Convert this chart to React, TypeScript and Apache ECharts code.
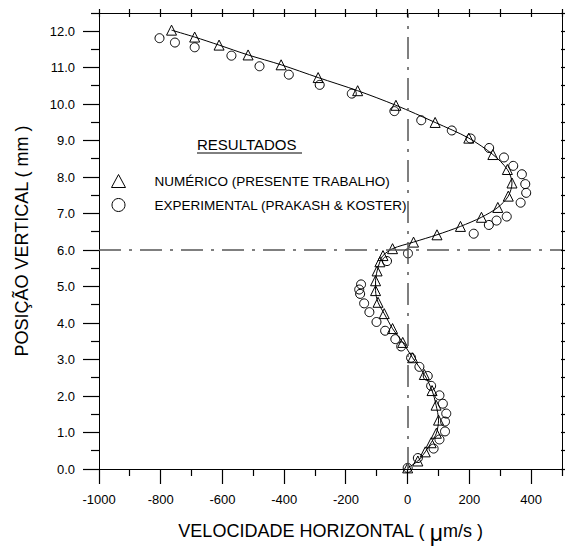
import React, { useEffect, useRef } from 'react';
import * as echarts from 'echarts';

// Numerical results (triangles, joined by a line)
const numX = [-765, -690, -611, -517, -410, -290, -162, -38, 89, 198, 276, 323, 338, 326, 292, 239, 171, 95, 19, -49, -80, -90, -99, -104, -104, -96, -76, -49, -16, 16, 54, 79, 92, 100, 93, 76, 57, 33, 0];
const numY = [12.03, 11.84, 11.62, 11.35, 11.08, 10.73, 10.37, 9.97, 9.5, 9.07, 8.62, 8.21, 7.84, 7.48, 7.17, 6.9, 6.65, 6.42, 6.22, 6.04, 5.85, 5.68, 5.43, 5.16, 4.89, 4.57, 4.26, 3.85, 3.47, 3.05, 2.59, 2.15, 1.75, 1.34, 0.98, 0.72, 0.47, 0.22, 0.03];

// Experimental results (circles)
const expX = [-804, -754, -690, -571, -480, -385, -285, -181, -43, 44, 143, 204, 264, 312, 342, 370, 381, 384, 366, 321, 288, 263, 214, 1, -67, -151, -157, -154, -141, -124, -101, -73, -40, -21, 11, 38, 65, 76, 103, 114, 125, 121, 121, 103, 84, 33, 0];
const expY = [11.81, 11.69, 11.56, 11.33, 11.04, 10.81, 10.53, 10.29, 9.81, 9.56, 9.28, 9.06, 8.8, 8.54, 8.31, 8.08, 7.81, 7.57, 7.3, 6.92, 6.81, 6.69, 6.45, 5.91, 5.7, 5.06, 4.92, 4.8, 4.54, 4.3, 4.03, 3.79, 3.56, 3.36, 3.05, 2.8, 2.55, 2.28, 2.02, 1.79, 1.52, 1.3, 1.03, 0.81, 0.56, 0.3, 0.03];

// Tick labels / tick positions
const xTicks = [-1000, -800, -600, -400, -200, 0, 200, 400];
const xMinorTicks = [-900, -700, -500, -300, -100, 100, 300, 500];
const xTopTicks = [-1000, -900, -800, -700, -600, -500, -400, -300, -200, -100, 0, 100, 200, 300, 400, 500];
const yTicks = [0, 1, 2, 3, 4, 5, 6, 7, 8, 9, 10, 11, 12];
const yMinorTicks = [0.5, 1.5, 2.5, 3.5, 4.5, 5.5, 6.5, 7.5, 8.5, 9.5, 10.5, 11.5, 12.5];
const yRightTicks = [0, 0.5, 1, 1.5, 2, 2.5, 3, 3.5, 4, 4.5, 5, 5.5, 6, 6.5, 7, 7.5, 8, 8.5, 9, 9.5, 10, 10.5, 11, 11.5, 12, 12.5];

const X_MIN = -1000;
const X_MAX = 500;
const Y_MIN = 0;
const Y_MAX = 12.5;

const refX = 0;
const refY = 6;

const NUM_NAME = 'NUMÉRICO (PRESENTE TRABALHO)';
const EXP_NAME = 'EXPERIMENTAL (PRAKASH & KOSTER)';
const FONT = '"Liberation Sans", Arial, sans-serif';

export default function App() {
  const ref = useRef<HTMLDivElement>(null);

  useEffect(() => {
    if (!ref.current) return;
    const chart = echarts.init(ref.current, null, { renderer: 'svg' });
    const numData = numX.map((x, i) => [x, numY[i]]);
    const expData = expX.map((x, i) => [x, expY[i]]);
    const blank = { show: false };
    const line = { show: true, onZero: false, lineStyle: { color: '#000', width: 1 } };

    chart.setOption({
      animation: false,
      backgroundColor: '#fff',
      textStyle: { fontFamily: FONT },
      grid: { left: 99, right: 3, top: 13, bottom: 71 },
      xAxis: [
        {
          type: 'value',
          position: 'bottom',
          min: X_MIN,
          max: X_MAX,
          interval: 100,
          splitLine: blank,
          axisLine: line,
          axisTick: blank,
          axisLabel: {
            show: true,
            customValues: xTicks,
            margin: 24,
            fontSize: 13,
            color: '#000',
            fontFamily: FONT,
            formatter: (v: number) => String(v),
          },
          name: '{a|VELOCIDADE HORIZONTAL ( }{mu|μ}{a|m/s )}',
          nameLocation: 'middle',
          nameGap: 48,
          nameTextStyle: {
            rich: {
              a: { fontSize: 18, color: '#000', fontFamily: FONT },
              mu: { fontSize: 23, color: '#000', fontFamily: FONT, padding: [4, 0, 0, 0] },
            },
          },
        },
        {
          type: 'value',
          position: 'top',
          min: X_MIN,
          max: X_MAX,
          interval: 100,
          splitLine: blank,
          axisLine: line,
          axisTick: blank,
          axisLabel: blank,
        },
      ],
      yAxis: [
        {
          type: 'value',
          position: 'left',
          min: Y_MIN,
          max: Y_MAX,
          interval: 0.5,
          splitLine: blank,
          axisLine: line,
          axisTick: blank,
          axisLabel: {
            show: true,
            customValues: yTicks,
            margin: 24,
            fontSize: 13,
            color: '#000',
            fontFamily: FONT,
            formatter: (v: number) => v.toFixed(1),
          },
          name: 'POSIÇÃO VERTICAL ( mm )',
          nameLocation: 'middle',
          nameGap: 68,
          nameRotate: 90,
          nameTextStyle: { fontSize: 18, color: '#000', fontFamily: FONT },
        },
        {
          type: 'value',
          position: 'right',
          min: Y_MIN,
          max: Y_MAX,
          interval: 0.5,
          splitLine: blank,
          axisLine: line,
          axisTick: blank,
          axisLabel: blank,
        },
      ],
      legend: {
        orient: 'vertical',
        left: 106,
        top: 169,
        itemWidth: 14,
        itemHeight: 13,
        itemGap: 10,
        selectedMode: false,
        textStyle: { fontSize: 13.5, color: '#000', fontFamily: FONT, padding: [0, 0, 0, 24] },
        data: [
          { name: NUM_NAME, icon: 'triangle', itemStyle: { color: 'rgba(0,0,0,0)', borderColor: '#000', borderWidth: 1 } },
          { name: EXP_NAME, icon: 'circle', itemStyle: { color: 'rgba(0,0,0,0)', borderColor: '#000', borderWidth: 1 } },
        ],
      },
      series: [
        {
          name: 'ref',
          type: 'line',
          data: [],
          silent: true,
          markLine: {
            silent: true,
            symbol: 'none',
            label: { show: false },
            lineStyle: { color: '#555', width: 1.5, type: [22, 8, 3, 8] },
            data: [{ xAxis: refX }, { yAxis: refY }],
          },
        },
        {
          name: NUM_NAME,
          type: 'line',
          data: numData,
          smooth: 0.3,
          symbol: 'triangle',
          symbolSize: 10,
          lineStyle: { color: '#000', width: 1 },
          itemStyle: { color: 'rgba(0,0,0,0)', borderColor: '#000', borderWidth: 1 },
          z: 3,
        },
        {
          name: EXP_NAME,
          type: 'scatter',
          data: expData,
          symbol: 'circle',
          symbolSize: 9,
          itemStyle: { color: 'rgba(0,0,0,0)', borderColor: '#000', borderWidth: 1, opacity: 1 },
          z: 3,
        },
      ],
    });

    // Ticks: positions come from the chart's own scales (convertToPixel)
    const toPx = (x: number, y: number) => chart.convertToPixel({ gridIndex: 0 }, [x, y]) as number[];
    const crisp = (v: number) => Math.floor(v) + 0.5;
    const tickStyle = { stroke: '#000', lineWidth: 1.2 };
    const ticks: any[] = [];
    const addTicks = (values: number[], side: string, outLen: number, inLen: number) => {
      values.forEach((v) => {
        let shape;
        if (side === 'bottom') {
          const p = toPx(v, Y_MIN);
          const x = crisp(p[0]);
          shape = { x1: x, y1: p[1] - inLen, x2: x, y2: p[1] + outLen };
        } else if (side === 'top') {
          const p = toPx(v, Y_MAX);
          const x = crisp(p[0]);
          shape = { x1: x, y1: p[1] - outLen, x2: x, y2: p[1] + inLen };
        } else if (side === 'left') {
          const p = toPx(X_MIN, v);
          const y = crisp(p[1]);
          shape = { x1: p[0] - outLen, y1: y, x2: p[0] + inLen, y2: y };
        } else {
          const p = toPx(X_MAX, v);
          const y = crisp(p[1]);
          shape = { x1: p[0] - inLen, y1: y, x2: p[0] + outLen, y2: y };
        }
        ticks.push({ type: 'line', silent: true, z: 10, shape, style: tickStyle });
      });
    };
    addTicks(xTicks, 'bottom', 15, 0);
    addTicks(xMinorTicks, 'bottom', 7, 0);
    addTicks(xTopTicks, 'top', 4, 4);
    addTicks(yTicks, 'left', 16, 0);
    addTicks(yMinorTicks, 'left', 8, 0);
    addTicks(yRightTicks, 'right', 5, 1);

    chart.setOption({
      graphic: [
        {
          type: 'text',
          left: 197,
          top: 137,
          style: { text: 'RESULTADOS', fontSize: 15, fill: '#000', fontFamily: FONT },
        },
        {
          type: 'line',
          shape: { x1: 197, y1: 153, x2: 302, y2: 153 },
          style: { stroke: '#000', lineWidth: 1 },
        },
        ...ticks,
      ],
    });

    return () => chart.dispose();
  }, []);

  return (
    <div
      ref={ref}
      style={{ position: 'absolute', left: 0, top: 0, width: 565, height: 549, background: '#fff' }}
    />
  );
}
